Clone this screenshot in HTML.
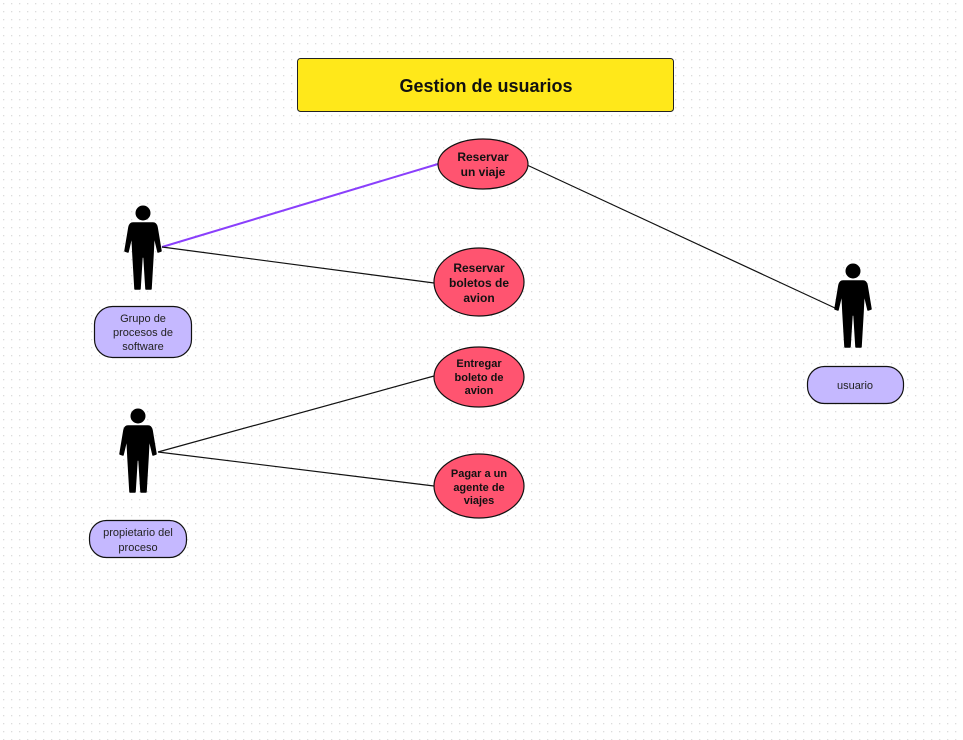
<!DOCTYPE html>
<html><head><meta charset="utf-8"><style>
html,body{margin:0;padding:0;background:#fff;}
svg{display:block;}
text{font-family:"Liberation Sans",sans-serif;}
</style></head><body>
<svg width="963" height="740" viewBox="0 0 963 740" xmlns="http://www.w3.org/2000/svg">
<defs>
<pattern id="g" width="8" height="8" patternUnits="userSpaceOnUse">
<rect x="3" y="3" width="1.3" height="1.3" fill="#dcdcdc"/>
</pattern>
<g id="man">
<circle cx="0" cy="0" r="7.5" fill="#000"/>
<path d="M-10,10 L10,10 Q13,10 14,14 L18,38 L15,39 L11,22 L10,42 L8,76 L3,76 L1,44 L-1,44 L-3,76 L-8,76 L-10,42 L-11,22 L-15,39 L-18,38 L-14,14 Q-13,10 -10,10Z" fill="#000" stroke="#000" stroke-width="1.5" stroke-linejoin="round"/>
</g>
</defs>
<rect width="963" height="740" fill="url(#g)"/>

<rect x="297.5" y="58.5" width="376" height="53" rx="3" fill="#FFE81A" stroke="#222" stroke-width="1"/>
<text x="486" y="92" text-anchor="middle" font-size="18" font-weight="bold" fill="#111">Gestion de usuarios</text>

<line x1="162" y1="247" x2="438" y2="164" stroke="#8A3FFC" stroke-width="2"/>
<line x1="162" y1="247" x2="434" y2="283" stroke="#111" stroke-width="1.2"/>
<line x1="158" y1="452" x2="434" y2="376" stroke="#111" stroke-width="1.2"/>
<line x1="158" y1="452" x2="434" y2="486" stroke="#111" stroke-width="1.2"/>
<line x1="527" y1="165" x2="835" y2="308" stroke="#111" stroke-width="1.2"/>

<use href="#man" x="143" y="213"/>
<use href="#man" x="138" y="416"/>
<use href="#man" x="853" y="271"/>

<g fill="#FF5470" stroke="#111" stroke-width="1.2">
<ellipse cx="483" cy="164" rx="45" ry="25"/>
<ellipse cx="479" cy="282" rx="45" ry="34"/>
<ellipse cx="479" cy="377" rx="45" ry="30"/>
<ellipse cx="479" cy="486" rx="45" ry="32"/>
</g>
<g font-size="12" font-weight="bold" fill="#111" text-anchor="middle">
<text x="483" y="161">Reservar</text><text x="483" y="176">un viaje</text>
<text x="479" y="272">Reservar</text><text x="479" y="287">boletos de</text><text x="479" y="302">avion</text>
<text x="479" y="367" font-size="11">Entregar</text><text x="479" y="381" font-size="11">boleto de</text><text x="479" y="394" font-size="11">avion</text>
<text x="479" y="477" font-size="11">Pagar a un</text><text x="479" y="491" font-size="11">agente de</text><text x="479" y="504" font-size="11">viajes</text>
</g>

<g fill="#C5B8FF" stroke="#111" stroke-width="1.2">
<rect x="94.5" y="306.5" width="97" height="51" rx="18"/>
<rect x="89.5" y="520.5" width="97" height="37" rx="17"/>
<rect x="807.5" y="366.5" width="96" height="37" rx="17"/>
</g>
<g font-size="11" fill="#222" text-anchor="middle">
<text x="143" y="322">Grupo de</text><text x="143" y="336">procesos de</text><text x="143" y="350">software</text>
<text x="138" y="536">propietario del</text><text x="138" y="551">proceso</text>
<text x="855" y="389">usuario</text>
</g>
</svg>
</body></html>
